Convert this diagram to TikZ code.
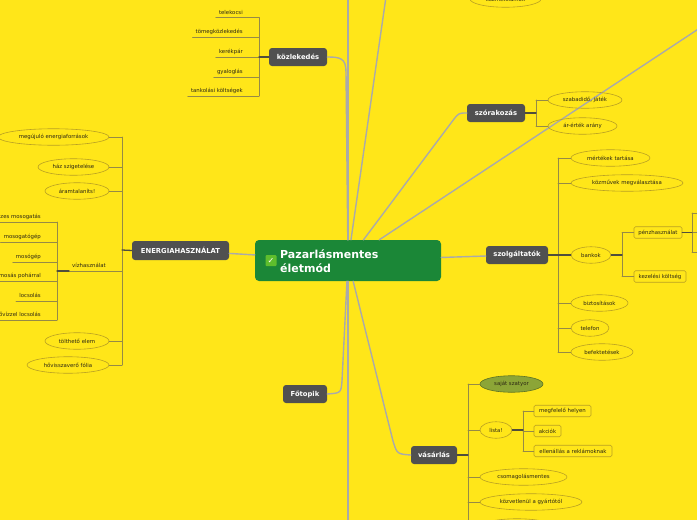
\documentclass[tikz,border=0pt]{standalone}
\usepackage{fontspec}
\setmainfont{DejaVu Sans}
\usepackage{tikz}
\usetikzlibrary{shapes.geometric,calc}
\definecolor{bgyel}{RGB}{255,230,25}
\definecolor{hubgreen}{RGB}{27,135,55}
\definecolor{tickgreen}{RGB}{95,190,45}
\definecolor{topicgray}{RGB}{80,80,80}
\definecolor{mainline}{RGB}{170,170,170}
\definecolor{subline}{RGB}{150,138,70}
\definecolor{stubline}{RGB}{80,78,60}
\definecolor{ringc}{RGB}{185,160,35}
\definecolor{subtext}{RGB}{45,40,20}
\definecolor{bagfill}{RGB}{140,165,55}
\definecolor{bagring}{RGB}{95,115,35}
\newcommand{\subfnt}{\fontsize{5.4}{6.4}\selectfont}
\tikzset{
  hub/.style={fill=hubgreen, rounded corners=4pt, inner sep=0pt},
  topic/.style={fill=topicgray, rounded corners=3pt, text=white, inner sep=0pt, minimum height=18pt, font=\bfseries\fontsize{6.8}{7}\selectfont},
  bub/.style={ellipse, draw=ringc, line width=0.6pt, inner sep=0pt, minimum height=16.5pt, text=subtext, font=\subfnt},
  tagbox/.style={draw=ringc, rounded corners=1.5pt, line width=0.6pt, inner sep=0pt, minimum height=11.5pt, text=subtext, font=\subfnt},
  plain/.style={inner xsep=3pt, inner ysep=2.3pt, text height=4pt, text depth=1pt, text=subtext, font=\subfnt},
  mainln/.style={draw=mainline, line width=1.4pt},
  subln/.style={draw=subline, line width=0.8pt},
  stubln/.style={draw=stubline, line width=1.3pt},
  every picture/.style={line cap=round, line join=round}
}

\begin{document}
\begin{tikzpicture}[x=1pt,y=-1pt]
  \useasboundingbox (0,0) rectangle (697,520);
  \clip (0,0) rectangle (697,520);
  \fill[bgyel] (0,0) rectangle (697,520);

  % central topic
  \node[hub, minimum width=186pt, minimum height=41pt] (ctr) at (348,260.5) {};
  \node[fill=tickgreen, rounded corners=1pt, minimum size=11pt, inner sep=0pt, text=white, font=\bfseries\fontsize{8}{8}\selectfont] (tick) at (271,260.5) {✓};
  \node[anchor=west, align=left, inner sep=0pt, text=white, font=\bfseries\fontsize{11}{13.5}\selectfont] (ctrtxt) at (280,261) {Pazarlásmentes\\életmód};

  % main topics
  \node[topic, minimum width=58pt] (kozl) at (298,57) {közlekedés};
  \node[topic, minimum width=97pt, minimum height=19pt] (energ) at (180.5,250.5) {ENERGIAHASZNÁLAT};
  \node[topic, minimum width=44pt] (fotop) at (305,394) {Főtopik};
  \node[topic, minimum width=58pt] (szor) at (496,113) {szórakozás};
  \node[topic, minimum width=62pt] (szolg) at (517,255) {szolgáltatók};
  \node[topic, minimum width=46pt] (vasar) at (434,455) {vásárlás};

  % topics outside the frame
  \coordinate (offT1) at (348,-10);
  \coordinate (offT2) at (387,-10);
  \coordinate (offR) at (712,20);
  \coordinate (offB) at (348,530);
  \node[bub, minimum width=71pt] (kozmet) at (505.5,-1) {kozmetikumok};

  % main connectors
  \draw[mainln] (ctr) -- (346,72) .. controls (346,58) and (340,57) .. (kozl.east);
  \draw[mainln] (ctr) -- (offT1);
  \draw[mainln] (ctr) -- (offT2);
  \draw[mainln] (ctr) -- (offR);
  \draw[mainln] (ctr) -- (454,119) .. controls (459,113) .. (szor.west);
  \draw[mainln] (ctr) -- (szolg);
  \draw[mainln] (ctr) -- (energ);
  \draw[mainln] (ctr) -- (342,381) .. controls (341,393) .. (fotop.east);
  \draw[mainln] (ctr) -- (offB);
  \draw[mainln] (ctr) -- (393,441) .. controls (397,454) .. (vasar.west);

  % kozlekedes
  \coordinate (kb) at (259,57);
  \node[plain, anchor=south east] (telek) at (246,17.5) {telekocsi};
  \node[plain, anchor=south east] (tomeg) at (246,37) {tömegközlekedés};
  \node[plain, anchor=south east] (kerek) at (246,57) {kerékpár};
  \node[plain, anchor=south east] (gyal) at (246,77) {gyaloglás};
  \node[plain, anchor=south east] (tank) at (246,96) {tankolási költségek};
  \draw[subln] (kb |- telek.south) -- (kb |- tank.south);
  \draw[subln] (telek.south west) -- (kb |- telek.south);
  \draw[subln] (tomeg.south west) -- (kb |- tomeg.south);
  \draw[subln] (kerek.south west) -- (kb |- kerek.south);
  \draw[subln] (gyal.south west) -- (kb |- gyal.south);
  \draw[subln] (tank.south west) -- (kb |- tank.south);
  \draw[stubln] (kozl.west) -- (kb);

  % energiahasznalat
  \coordinate (eb) at (122,250);
  \node[bub, minimum width=111pt] (megu) at (53.5,137) {megújuló energiaforrások};
  \node[bub, minimum width=71pt] (haz) at (73.5,167) {ház szigetelése};
  \node[bub, minimum width=64pt] (aram) at (77,191) {áramtalaníts!};
  \node[plain, anchor=south] (vizh) at (89,271) {vízhasználat};
  \node[bub, minimum width=64pt] (tolt) at (77,341) {tölthető elem};
  \node[bub, minimum width=82pt] (hovi) at (68,365) {hővisszaverő fólia};
  \draw[subln] (eb |- megu.east) -- (eb |- hovi.east);
  \draw[subln] (megu.east) -- (eb |- megu.east);
  \draw[subln] (haz.east) -- (eb |- haz.east);
  \draw[subln] (aram.east) -- (eb |- aram.east);
  \draw[subln] (vizh.south west) -- (eb |- vizh.south);
  \draw[subln] (tolt.east) -- (eb |- tolt.east);
  \draw[subln] (hovi.east) -- (eb |- hovi.east);
  \draw[stubln] (energ.west) -- (eb);

  % vizhasznalat
  \coordinate (wb) at (57,271);
  \node[plain, anchor=south east] (mosgat) at (44,222) {zes mosogatás};
  \node[plain, anchor=south east] (mosogep) at (44,242) {mosogatógép};
  \node[plain, anchor=south east] (mosog) at (44,262) {mosógép};
  \node[plain, anchor=south east] (fogm) at (44,281) {fogmosás pohárral};
  \node[plain, anchor=south east] (locs) at (44,301) {locsolás};
  \node[plain, anchor=south east] (esov) at (44,320) {esővízzel locsolás};
  \draw[subln] (wb |- mosgat.south) -- (wb |- esov.south);
  \draw[subln] (mosgat.south west) -- (wb |- mosgat.south);
  \draw[subln] (mosogep.south west) -- (wb |- mosogep.south);
  \draw[subln] (mosog.south west) -- (wb |- mosog.south);
  \draw[subln] (fogm.south west) -- (wb |- fogm.south);
  \draw[subln] (locs.south west) -- (wb |- locs.south);
  \draw[subln] (esov.south west) -- (wb |- esov.south);
  \draw[stubln] (vizh.south west) -- (wb |- vizh.south);

  % szorakozas
  \coordinate (sb) at (536,113);
  \node[bub, minimum width=74pt] (szab) at (585,100) {szabadidő, játék};
  \node[bub, minimum width=69pt] (arer) at (582.5,126) {ár-érték arány};
  \draw[subln] (sb |- szab.west) -- (sb |- arer.west);
  \draw[subln] (sb |- szab.west) -- (szab.west);
  \draw[subln] (sb |- arer.west) -- (arer.west);
  \draw[stubln] (szor.east) -- (sb);

  % szolgaltatok
  \coordinate (gb) at (558,255);
  \node[bub, minimum width=79pt] (mert) at (610.5,158) {mértékek tartása};
  \node[bub, minimum width=112pt] (kozmu) at (627,183) {közművek megválasztása};
  \node[bub, minimum width=40pt] (bank) at (591,255) {bankok};
  \node[bub, minimum width=57pt] (bizt) at (599.5,303) {biztosítások};
  \node[bub, minimum width=38pt] (telef) at (590,328) {telefon};
  \node[bub, minimum width=62pt] (befek) at (602,352) {befektetések};
  \draw[subln] (gb |- mert.west) -- (gb |- befek.west);
  \draw[subln] (gb |- mert.west) -- (mert.west);
  \draw[subln] (gb |- kozmu.west) -- (kozmu.west);
  \draw[subln] (gb |- bizt.west) -- (bizt.west);
  \draw[subln] (gb |- telef.west) -- (telef.west);
  \draw[subln] (gb |- befek.west) -- (befek.west);
  \draw[stubln] (szolg.east) -- (bank.west);

  % bankok
  \coordinate (bb) at (622,255);
  \node[tagbox, minimum width=48pt] (penz) at (658,232.5) {pénzhasználat};
  \node[tagbox, minimum width=52pt] (kezel) at (660,276.5) {kezelési költség};
  \draw[subln] (bb |- penz.west) -- (bb |- kezel.west);
  \draw[subln] (bb |- penz.west) -- (penz.west);
  \draw[subln] (bb |- kezel.west) -- (kezel.west);
  \draw[stubln] (bank.east) -- (bb);

  % penzhasznalat
  \coordinate (pb) at (692,232.5);
  \coordinate (pk1) at (705,213);
  \coordinate (pk2) at (705,232.5);
  \coordinate (pk3) at (705,252);
  \draw[subln] (pb |- pk1) -- (pb |- pk3);
  \draw[subln] (pb |- pk1) -- (pk1);
  \draw[subln] (pb) -- (pk2);
  \draw[subln] (pb |- pk3) -- (pk3);
  \draw[stubln] (penz.east) -- (pb);

  % vasarlas
  \coordinate (vb) at (468,455);
  \coordinate (offV) at (468,530);
  \node[bub, minimum width=63pt, fill=bagfill, draw=bagring] (sajat) at (511.5,384) {saját szatyor};
  \node[bub, minimum width=32pt] (lista) at (496,430) {lista!};
  \node[bub, minimum width=87pt] (csom) at (523.5,477) {csomagolásmentes};
  \node[bub, minimum width=102pt] (kozv) at (531,502) {közvetlenül a gyártótól};
  \node[bub, minimum width=74pt] (rest) at (517,527) {};
  \draw[subln] (vb |- sajat.west) -- (offV);
  \draw[subln] (vb |- sajat.west) -- (sajat.west);
  \draw[subln] (vb |- lista.west) -- (lista.west);
  \draw[subln] (vb |- csom.west) -- (csom.west);
  \draw[subln] (vb |- kozv.west) -- (kozv.west);
  \draw[subln] (vb |- rest.west) -- (rest.west);
  \draw[stubln] (vasar.east) -- (vb);

  % lista
  \coordinate (lb) at (523,430);
  \node[tagbox, minimum width=57pt] (megf) at (562.5,411) {megfelelő helyen};
  \node[tagbox, minimum width=27pt] (akci) at (547.5,431) {akciók};
  \node[tagbox, minimum width=78pt] (elle) at (573,451) {ellenállás a reklámoknak};
  \draw[subln] (lb |- megf.west) -- (lb |- elle.west);
  \draw[subln] (lb |- megf.west) -- (megf.west);
  \draw[subln] (lb |- akci.west) -- (akci.west);
  \draw[subln] (lb |- elle.west) -- (elle.west);
  \draw[stubln] (lista.east) -- (lb);
\end{tikzpicture}
\end{document}
